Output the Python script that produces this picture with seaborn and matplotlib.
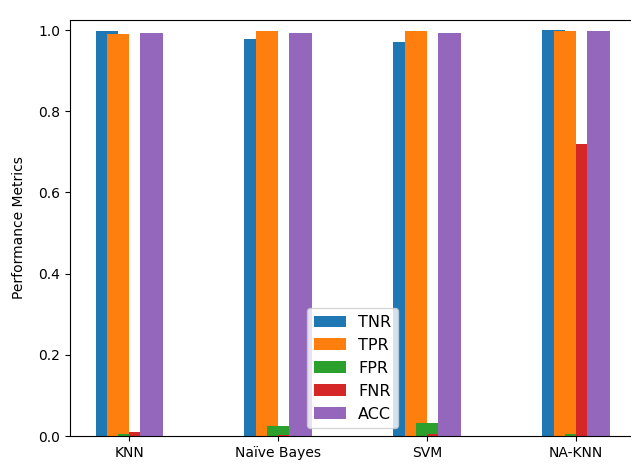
import matplotlib
matplotlib.use("Agg")
import matplotlib.pyplot as plt
import seaborn as sns
import numpy as np

# values
models = ["KNN", "Naïve Bayes", "SVM", "NA-KNN"]
tnr = [0.997, 0.978, 0.970, 1.000]
tpr = [0.991, 0.999, 0.998, 0.997]
fpr = [0.006, 0.025, 0.033, 0.006]
fnr = [0.010, 0.002, 0.006, 0.719]
acc = [0.992, 0.994, 0.993, 0.997]

metrics = ["TNR", "TPR", "FPR", "FNR", "ACC"]
series = [tnr, tpr, fpr, fnr, acc]
colors = ["#1f77b4", "#ff7f0e", "#2ca02c", "#d62728", "#9467bd"]
offsets = [-0.15, -0.075, 0.0, 0.075, 0.15]
bar_w = 0.15

fig = plt.figure(figsize=(6.31, 4.66), dpi=100)
# right spine falls just outside the saved picture, as in the reference
ax = fig.add_axes([69.8 / 631, 30 / 466, 565.4 / 631, 416 / 466])

pos = np.arange(len(models))
for name, vals, c, off in zip(metrics, series, colors, offsets):
    sns.barplot(
        x=pos + off,
        y=vals,
        native_scale=True,
        width=bar_w,
        color=c,
        saturation=1,
        errorbar=None,
        linewidth=0,
        label=name,
        ax=ax,
    )

ax.set_xticks(pos)
ax.set_xticklabels(models)
ax.set_xlim(-0.3975, 3.3975)
ax.set_ylim(0, 1.025)
ax.set_yticks([0.0, 0.2, 0.4, 0.6, 0.8, 1.0])
ax.set_ylabel("Performance Metrics", labelpad=9)
ax.legend(loc="lower center", fontsize=11.5)

fig.savefig("out.png", dpi=100)
